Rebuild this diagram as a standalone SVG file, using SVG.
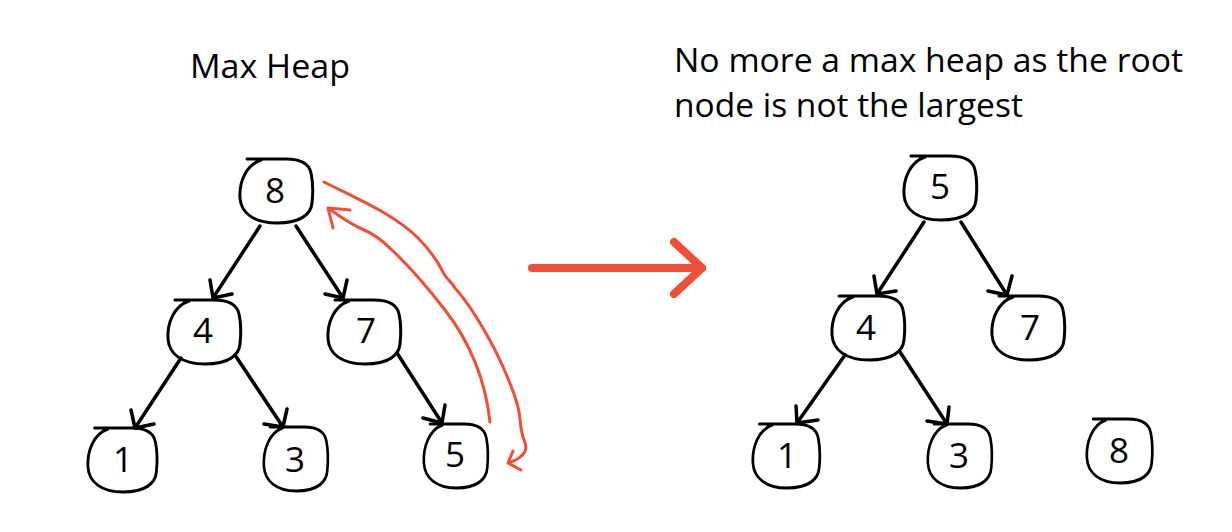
<svg xmlns="http://www.w3.org/2000/svg" width="1232" height="532" viewBox="0 0 1232 532">
  <style>
    .blob { fill: none; stroke: #000; stroke-width: 3; stroke-linecap: round; stroke-linejoin: round; }
    .num { font-family: "Open Sans", "Liberation Sans", sans-serif; font-size: 35px; fill: #000; text-anchor: middle; }
    .title { font-family: "Open Sans", "Liberation Sans", sans-serif; font-size: 33.5px; fill: #000; }
    .edge { fill: none; stroke: #000; stroke-width: 3.5; stroke-linecap: round; stroke-linejoin: round; }
    .red { fill: none; stroke: #EF4F36; stroke-width: 3; stroke-linecap: round; stroke-linejoin: round; }
    .bigred { fill: none; stroke: #EF4F36; stroke-width: 8; stroke-linecap: round; stroke-linejoin: round; }
  </style>
  <defs>
    <path id="blob" d="M 8,1 L 47,1 C 61,1 70,5 72,15 C 74,24 74,36 73,45 C 72,56 62,65 38,65 C 15,65 2,55 1,40 C 0,24 7,7 22,2"/>
  </defs>
  <rect width="1232" height="532" fill="#fff"/>

  <text class="title" x="190" y="78" textLength="160" lengthAdjust="spacingAndGlyphs">Max Heap</text>
  <text class="title" x="674" y="72" textLength="509" lengthAdjust="spacingAndGlyphs">No more a max heap as the root</text>
  <text class="title" x="674" y="117">node is not the largest</text>

  <!-- Left heap nodes -->
  <g id="L8"><use href="#blob" class="blob" transform="translate(239,158)"/><text class="num" x="275" y="203">8</text></g>
  <g id="L4"><use href="#blob" class="blob" transform="translate(167,299)"/><text class="num" x="203" y="343">4</text></g>
  <g id="L7"><use href="#blob" class="blob" transform="translate(327,299)"/><text class="num" x="366" y="343">7</text></g>
  <g id="L1"><use href="#blob" class="blob" transform="translate(87,427) scale(0.95,1)"/><text class="num" x="123" y="472">1</text></g>
  <g id="L3"><use href="#blob" class="blob" transform="translate(263,426) scale(0.88,1)"/><text class="num" x="295" y="472">3</text></g>
  <g id="L5"><use href="#blob" class="blob" transform="translate(423,423) scale(0.88,1)"/><text class="num" x="455" y="467">5</text></g>

  <!-- Right heap nodes -->
  <g id="R5"><use href="#blob" class="blob" transform="translate(903,155)"/><text class="num" x="940" y="199">5</text></g>
  <g id="R4"><use href="#blob" class="blob" transform="translate(831,295)"/><text class="num" x="866" y="340">4</text></g>
  <g id="R7"><use href="#blob" class="blob" transform="translate(991,295)"/><text class="num" x="1030" y="340">7</text></g>
  <g id="R1"><use href="#blob" class="blob" transform="translate(752,423) scale(0.92,1)"/><text class="num" x="787" y="468">1</text></g>
  <g id="R3"><use href="#blob" class="blob" transform="translate(927,423) scale(0.88,1)"/><text class="num" x="959" y="468">3</text></g>
  <g id="R8"><use href="#blob" class="blob" transform="translate(1086,418) scale(0.9,1)"/><text class="num" x="1119" y="463">8</text></g>

  <g id="connectors">
    <!-- left tree edges -->
    <path class="edge" d="M 260,226 L 213,298 M 210,280 L 213,298 L 232,294"/>
    <path class="edge" d="M 296,226 L 343,298 M 347,280 L 343,298 L 325,294"/>
    <path class="edge" d="M 181,358 L 135,428 M 131,410 L 135,428 L 154,424"/>
    <path class="edge" d="M 235,355 L 283,427 M 287,409 L 283,427 L 264,424"/>
    <path class="edge" d="M 397,353 L 442,423 M 445,405 L 442,423 L 423,418"/>
    <!-- right tree edges -->
    <path class="edge" d="M 924,222 L 877,294 M 874,276 L 877,294 L 896,291"/>
    <path class="edge" d="M 961,222 L 1007,295 M 1012,276 L 1007,295 L 988,291"/>
    <path class="edge" d="M 845,355 L 797,423 M 796,406 L 797,423 L 818,420"/>
    <path class="edge" d="M 900,352 L 947,424 M 949,407 L 947,424 L 927,421"/>
    <!-- red swap arrows -->
    <path class="red" d="M 324,182 C 360,200 395,215 418,238 C 432,252 438,262 443,272 C 446,279 452,282 455,288 C 470,305 482,325 495,350 C 506,372 514,392 518,407 C 521,420 520,430 524,440 C 528,448 527,456 509,463"/>
    <path class="red" d="M 513,451 L 508,463 L 521,470"/>
    <path class="red" d="M 490,422 C 486,385 472,345 445,310 C 428,288 408,265 392,250 C 380,238 372,233 362,229 C 350,224 340,216 329,209"/>
    <path class="red" d="M 350,210 L 328,208 L 333,228"/>
    <!-- big transition arrow -->
    <path class="bigred" d="M 532,268 L 702,268" stroke-linecap="butt"/>
    <path class="bigred" d="M 674,242 L 702,268 L 674,294"/>
  </g>
</svg>
